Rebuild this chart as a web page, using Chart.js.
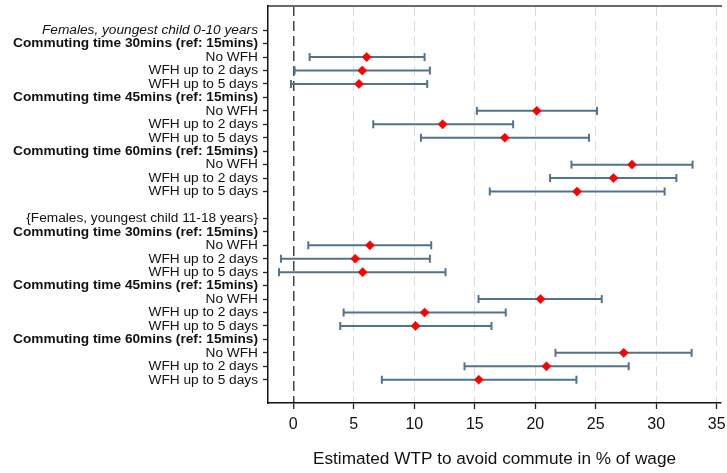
<!DOCTYPE html>
<html>
<head>
<meta charset="utf-8">
<script src="https://cdn.jsdelivr.net/npm/chart.js@4"></script>
<style>
  html, body { margin: 0; padding: 0; background: #fff; overflow: hidden; }
  #wrap { width: 727px; height: 473px; }
</style>
</head>
<body>
<div id="wrap"><canvas id="wtpChart" width="727" height="473"></canvas></div>
<script>
// === Data ===
const rowLabels = [
    'Females, youngest child 0-10 years',
    'Commuting time 30mins (ref: 15mins)', 'No WFH', 'WFH up to 2 days', 'WFH up to 5 days',
    'Commuting time 45mins (ref: 15mins)', 'No WFH', 'WFH up to 2 days', 'WFH up to 5 days',
    'Commuting time 60mins (ref: 15mins)', 'No WFH', 'WFH up to 2 days', 'WFH up to 5 days',
    '',
    '{Females, youngest child 11-18 years}',
    'Commuting time 30mins (ref: 15mins)', 'No WFH', 'WFH up to 2 days', 'WFH up to 5 days',
    'Commuting time 45mins (ref: 15mins)', 'No WFH', 'WFH up to 2 days', 'WFH up to 5 days',
    'Commuting time 60mins (ref: 15mins)', 'No WFH', 'WFH up to 2 days', 'WFH up to 5 days'
];
const italicRows = [0];
const boldRows = [1, 5, 9, 15, 19, 23];

const estimate = [null, null, 6.06, 5.70, 5.43, null, 20.12, 12.34, 17.48, null, 27.99, 26.46, 23.45,
    null, null, null, 6.33, 5.12, 5.73, null, 20.43, 10.85, 10.10, null, 27.31, 20.92, 15.33];
const ciLow = [null, null, 1.35, 0.11, -0.19, null, 15.17, 6.61, 10.55, null, 22.99, 21.22, 16.24,
    null, null, null, 1.24, -1.02, -1.18, null, 15.31, 4.16, 3.88, null, 21.67, 14.15, 7.32];
const ciHigh = [null, null, 10.85, 11.29, 11.07, null, 25.10, 18.17, 24.44, null, 33.00, 31.66, 30.69,
    null, null, null, 11.40, 11.29, 12.58, null, 25.49, 17.56, 16.38, null, 32.92, 27.72, 23.40];

const xTicks = [0, 5, 10, 15, 20, 25, 30, 35];

// === Build datasets ===
const pointData = [];
const ciData = [];
estimate.forEach((v, i) => {
    if (v === null) return;
    pointData.push({ x: v, y: i });
    ciData.push({ x: ciLow[i], y: i }, { x: ciHigh[i], y: i }, { x: null, y: null });
});

const FONT = "'Liberation Sans', Arial, sans-serif";
const X_MIN = -2.09, X_MAX = 35.35;

// no extra padding from the scales, so the plot frame lands where it should
function noPad(s) {
    s.paddingTop = 0; s.paddingBottom = 0; s.paddingLeft = 0; s.paddingRight = 0;
}

const ctx = document.getElementById('wtpChart').getContext('2d');
new Chart(ctx, {
    type: 'scatter',
    data: {
        datasets: [{
            label: 'Estimate',
            data: pointData,
            pointStyle: 'rectRot',
            pointRadius: 4.6,
            pointBackgroundColor: '#ff0000',
            pointBorderColor: '#ff0000',
            pointBorderWidth: 0.5,
            showLine: false
        }, {
            label: 'CI',
            data: ciData,
            showLine: true,
            spanGaps: false,
            borderColor: '#53738c',
            borderWidth: 2,
            pointStyle: 'line',
            pointRotation: 90,
            pointRadius: 4,
            pointBorderWidth: 2,
            pointBorderColor: '#53738c'
        }]
    },
    options: {
        responsive: false,
        animation: false,
        layout: { padding: 0 },
        plugins: { legend: { display: false }, tooltip: { enabled: false } },
        scales: {
            x: {
                type: 'linear',
                position: 'bottom',
                min: X_MIN,
                max: X_MAX,
                afterBuildTicks: (s) => { s.ticks = xTicks.map(v => ({ value: v })); },
                afterFit: (s) => { s.height = 70; noPad(s); },
                grid: {
                    color: (c) => (c.tick && c.tick.value === 0) ? '#444444' : '#dcdcdc',
                    lineWidth: (c) => (c.tick && c.tick.value === 0) ? 1.5 : 1,
                    tickColor: '#222',
                    tickLength: 6,
                    tickWidth: 1.3
                },
                border: {
                    color: '#111',
                    width: 1.5,
                    dash: (c) => c.tick ? [10, 5] : []
                },
                ticks: {
                    color: '#111',
                    padding: 6,
                    font: { family: FONT, size: 16 }
                },
                title: {
                    display: true,
                    text: 'Estimated WTP to avoid commute in % of wage',
                    color: '#111',
                    font: { family: FONT, size: 17.2 },
                    padding: { top: 0, bottom: 3 }
                }
            },
            x2: {
                type: 'linear',
                position: 'top',
                min: X_MIN,
                max: X_MAX,
                afterFit: (s) => { s.height = 5; noPad(s); },
                grid: { display: false },
                ticks: { display: false },
                border: { color: '#6a6a6a', width: 2 }
            },
            y: {
                type: 'linear',
                reverse: true,
                min: -1.8,
                max: 27.73,
                afterBuildTicks: (s) => {
                    s.ticks = rowLabels.map((l, i) => ({ value: i, label: l })).filter(t => t.label !== '');
                },
                afterFit: (s) => { s.width = 268; noPad(s); },
                grid: {
                    drawOnChartArea: false,
                    tickColor: '#222',
                    tickLength: 5,
                    tickWidth: 1.3
                },
                border: { color: '#111', width: 1.5 },
                ticks: {
                    color: '#111',
                    padding: 5,
                    autoSkip: false,
                    callback: (v) => rowLabels[v],
                    font: (c) => {
                        const i = c.tick ? c.tick.value : -1;
                        return {
                            family: FONT,
                            size: 13.7,
                            style: italicRows.includes(i) ? 'italic' : 'normal',
                            weight: boldRows.includes(i) ? 'bold' : 'normal'
                        };
                    }
                }
            }
        }
    }
});
</script>
</body>
</html>
